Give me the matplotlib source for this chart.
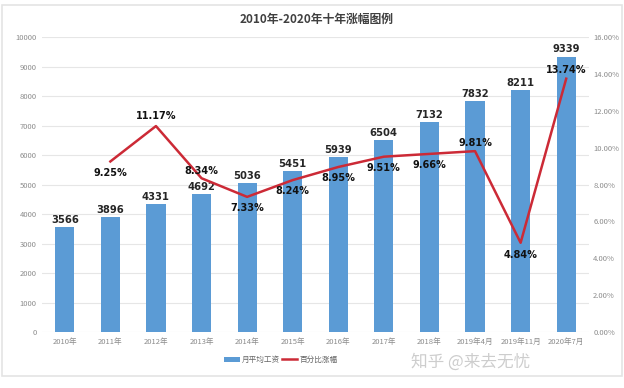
import matplotlib.pyplot as plt
from matplotlib.patches import Rectangle

plt.rcParams['font.family'] = ['Noto Sans CJK SC', 'DejaVu Sans']

periods = ['2010年', '2011年', '2012年', '2013年', '2014年', '2015年', '2016年',
           '2017年', '2018年', '2019年4月', '2019年11月', '2020年7月']
wage = [3566, 3896, 4331, 4692, 5036, 5451, 5939, 6504, 7132, 7832, 8211, 9339]
# 增幅从2011年开始
growth = [9.25, 11.17, 8.34, 7.33, 8.24, 8.95, 9.51, 9.66, 9.81, 4.84, 13.74]

# 百分比标签的上下偏移（点）
offs = [-8, 7, 5, -8, -8, -8, -8, -8, 6, -9, 6]

fig = plt.figure(figsize=(6.24, 3.88), dpi=100)
fig.patches.append(Rectangle((0.003, 0.03), 0.994, 0.958, transform=fig.transFigure,
                             fill=False, edgecolor='#e4e4e4', linewidth=1.2))

ax = fig.add_axes([0.0673, 0.1443, 0.8766, 0.7603])
x = list(range(len(periods)))
ax.bar(x, wage, width=0.42, color='#5b9bd5', label='月平均工资', zorder=2)
for xi, v in zip(x, wage):
    ax.annotate(str(v), (xi, v), xytext=(0, 1.5), textcoords='offset points',
                ha='center', va='bottom', fontsize=7.2, fontweight='bold', color='#262626',
                family=['DejaVu Sans'])

ax.set_xlim(-0.5, len(periods) - 0.5)
ax.set_ylim(0, 10000)
ax.set_yticks(range(0, 10001, 1000))
ax.set_xticks(x)
ax.set_xticklabels(periods)
ax.grid(axis='y', color='#e6e6e6', linewidth=0.8, zorder=0)
ax.set_axisbelow(True)
for s in ax.spines.values():
    s.set_visible(False)
ax.tick_params(length=0, labelsize=5.5, labelcolor='#8c8c8c')
ax.tick_params(axis='y', pad=4)
ax.tick_params(axis='x', pad=4)

ax2 = ax.twinx()
ax2.set_position(ax.get_position())
ax2.plot(x[1:], growth, color='#cc2a36', linewidth=1.8, label='百分比涨幅', zorder=3)
for xi, v, o in zip(x[1:], growth, offs):
    ax2.annotate(f'{v:.2f}%', (xi, v), xytext=(0, o), textcoords='offset points',
                 ha='center', va='center', fontsize=7, fontweight='bold', color='#111111',
                 family=['DejaVu Sans'])
ax2.set_ylim(0, 16)
ax2.set_yticks(range(0, 17, 2))
ax2.set_yticklabels([f'{t:.2f}%' for t in range(0, 17, 2)])
for s in ax2.spines.values():
    s.set_visible(False)
ax2.tick_params(length=0, labelsize=5.5, labelcolor='#8c8c8c', pad=3)

fig.text(0.507, 0.951, '2010年-2020年十年涨幅图例', ha='center', va='center',
         fontsize=8.5, fontweight='bold', color='#404040')

h1, l1 = ax.get_legend_handles_labels()
h2, l2 = ax2.get_legend_handles_labels()
fig.legend(h1 + h2, l1 + l2, loc='center', bbox_to_anchor=(0.45, 0.072), ncol=2,
           frameon=False, fontsize=5.5, labelcolor='#666666', handlelength=2,
           handletextpad=0.3, columnspacing=0.2)

fig.text(0.755, 0.068, '知乎 @来去无忧', ha='center', va='center', fontsize=12,
         color='#cdcdcd', fontweight='light')

fig.savefig('out.png', dpi=100, facecolor='white')
